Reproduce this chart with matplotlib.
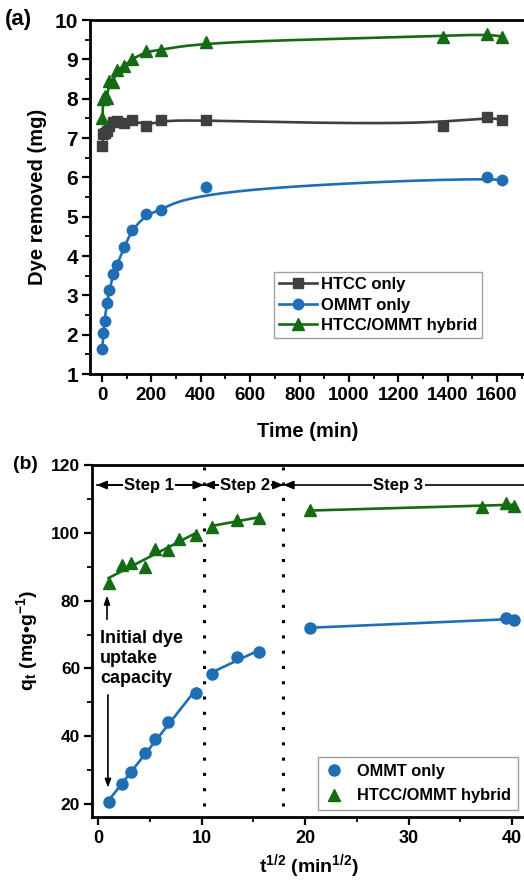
import numpy as np
import matplotlib
matplotlib.use("Agg")
import matplotlib.pyplot as plt
from matplotlib.lines import Line2D
from matplotlib.ticker import MultipleLocator

plt.rcParams["font.family"] = ["Liberation Sans", "DejaVu Sans"]
plt.rcParams["font.weight"] = "bold"
plt.rcParams["axes.labelweight"] = "bold"
plt.rcParams["mathtext.fontset"] = "custom"
plt.rcParams["mathtext.rm"] = "Liberation Sans:bold"
plt.rcParams["mathtext.it"] = "Liberation Sans:bold"
plt.rcParams["mathtext.bf"] = "Liberation Sans:bold"

# ---- panel (a): dye removed vs time ----
time_htcc = [1, 5, 10, 20, 30, 45, 60, 90, 120, 180, 240, 420, 1380, 1560, 1620]
dye_htcc = [6.8, 7.1, 7.12, 7.18, 7.3, 7.4, 7.43, 7.37, 7.46, 7.31, 7.45, 7.45, 7.31, 7.54, 7.47]

time_ommt = [1, 5, 10, 20, 30, 45, 60, 90, 120, 180, 240, 420, 1560, 1620]
dye_ommt = [1.63, 2.03, 2.36, 2.81, 3.13, 3.53, 3.77, 4.22, 4.66, 5.06, 5.17, 5.75, 6.0, 5.93]

time_hyb = [1, 5, 10, 20, 30, 45, 60, 90, 120, 180, 240, 420, 1380, 1560, 1620]
dye_hyb = [7.5, 8.0, 8.08, 8.02, 8.45, 8.42, 8.73, 8.83, 9.0, 9.2, 9.24, 9.45, 9.58, 9.65, 9.58]

# ---- panel (b): qt vs t^1/2 ----
sqrt_ommt = [1.0, 2.3, 3.2, 4.5, 5.5, 6.7, 9.5, 11.0, 13.4, 15.5, 20.5, 39.4, 40.2]
qt_ommt = [20.5, 25.8, 29.4, 35.0, 39.2, 44.3, 52.8, 58.4, 63.3, 64.8, 72.0, 74.8, 74.3]

sqrt_hyb = [1.0, 2.3, 3.2, 4.5, 5.5, 6.7, 7.8, 9.5, 11.0, 13.4, 15.5, 20.5, 37.1, 39.4, 40.2]
qt_hyb = [85.1, 90.5, 91.2, 89.8, 95.2, 94.9, 98.3, 99.4, 101.8, 103.9, 104.3, 106.6, 107.7, 108.8, 108.0]

step_bounds = [10.2, 17.9]
step_names = ["Step 1", "Step 2", "Step 3"]

grey = "#3f3f3f"
blue = "#1f6db5"
green = "#146b14"


def bspline(x, y, num=400, k=3):
    # clamped cubic B-spline with the data points as control points
    n = len(x)
    knots = np.concatenate([np.zeros(k), np.linspace(0, 1, n - k + 1), np.ones(k)])
    u = np.linspace(0, 1, num)
    N = np.zeros((len(knots) - 1, num))
    for i in range(len(knots) - 1):
        N[i] = (knots[i] <= u) & (u < knots[i + 1])
    last = np.where(knots[:-1] < knots[1:])[0][-1]
    N[last, -1] = 1.0
    for p in range(1, k + 1):
        Nn = np.zeros((len(knots) - p - 1, num))
        for i in range(len(knots) - p - 1):
            d1 = knots[i + p] - knots[i]
            d2 = knots[i + p + 1] - knots[i + 1]
            a = (u - knots[i]) / d1 * N[i] if d1 > 0 else 0
            b = (knots[i + p + 1] - u) / d2 * N[i + 1] if d2 > 0 else 0
            Nn[i] = a + b
        N = Nn
    return N.T @ np.asarray(x, float), N.T @ np.asarray(y, float)


fig = plt.figure(figsize=(5.24, 8.86), dpi=100)
W, H = 524.0, 886.0
axa = fig.add_axes([89.7 / W, 1 - 374 / H, (526.6 - 89.7) / W, 354 / H])
axb = fig.add_axes([92 / W, 1 - 817 / H, (526.5 - 92) / W, 352 / H])

for ax in (axa, axb):
    for s in ax.spines.values():
        s.set_linewidth(2.0)
    ax.tick_params(which="both", direction="out", top=False, right=False)
    ax.tick_params(which="major", length=6, width=1.6)
    ax.tick_params(which="minor", length=3.5, width=1.3)
    ax.tick_params(axis="x", pad=3.5)
    ax.tick_params(axis="y", pad=2.5)
axa.tick_params(axis="x", labelsize=13.5)
axa.tick_params(axis="y", labelsize=15)
axb.tick_params(axis="x", labelsize=13)
axb.tick_params(axis="y", labelsize=12.5)

# panel (a)
series_a = [
    (time_htcc, dye_htcc, grey, "s", 6.5, "HTCC only"),
    (time_ommt, dye_ommt, blue, "o", 7.5, "OMMT only"),
    (time_hyb, dye_hyb, green, "^", 8, "HTCC/OMMT hybrid"),
]
handles = []
for x, y, c, m, ms, lab in series_a:
    xs, ys = bspline(x, y)
    axa.plot(xs, ys, color=c, lw=1.9, zorder=2)
    axa.plot(x, y, ls="none", marker=m, ms=ms, color=c, zorder=3)
    handles.append(Line2D([], [], color=c, lw=1.9, marker=m, ms=ms, label=lab))

axa.set_xlim(-50, 1720)
axa.set_ylim(1, 10)
axa.xaxis.set_major_locator(MultipleLocator(200))
axa.xaxis.set_minor_locator(MultipleLocator(100))
axa.yaxis.set_major_locator(MultipleLocator(1))
axa.yaxis.set_minor_locator(MultipleLocator(0.5))
axa.set_xlabel("Time (min)", fontsize=14.5)
axa.set_ylabel("Dye removed (mg)", fontsize=14.5)
axa.xaxis.set_label_coords(0.5, -0.135)
axa.yaxis.set_label_coords(-0.097, 0.5)
leg = axa.legend(handles=handles, loc="lower right", bbox_to_anchor=(0.898, 0.102),
                 borderaxespad=0, fontsize=12, fancybox=False, handlelength=2.25,
                 handletextpad=0.25, borderpad=0.3, labelspacing=0.32)
leg.get_frame().set_edgecolor("#888888")
leg.get_frame().set_linewidth(1.0)

# panel (b)
series_b = [
    (sqrt_ommt, qt_ommt, blue, "o", 8, "OMMT only"),
    (sqrt_hyb, qt_hyb, green, "^", 8.5, "HTCC/OMMT hybrid"),
]
for x, y, c, m, ms, lab in series_b:
    x = np.asarray(x)
    y = np.asarray(y)
    seg = np.digitize(x, step_bounds)
    for s in np.unique(seg):
        xs, ys = x[seg == s], y[seg == s]
        k, b = np.polyfit(xs, ys, 1)
        axb.plot([xs[0], xs[-1]], [k * xs[0] + b, k * xs[-1] + b], color=c, lw=1.9, zorder=2)
    axb.plot(x, y, ls="none", marker=m, ms=ms, color=c, zorder=3, label=lab)

axb.set_xlim(-0.6, 41.4)
axb.set_ylim(16.2, 120)
axb.xaxis.set_major_locator(MultipleLocator(10))
axb.xaxis.set_minor_locator(MultipleLocator(5))
axb.yaxis.set_major_locator(MultipleLocator(20))
axb.yaxis.set_minor_locator(MultipleLocator(10))
axb.set_xlabel(r"t$^\mathregular{1/2}$ (min$^\mathregular{1/2}$)", fontsize=14)
axb.set_ylabel(r"q$_\mathregular{t}$ (mg•g$^\mathregular{-1}$)", fontsize=14)
axb.xaxis.set_label_coords(0.5, -0.1)
axb.yaxis.set_label_coords(-0.12, 0.5)

for xb in step_bounds:
    axb.plot([xb, xb], [19.5, 119.5], color="black", lw=2.2, ls=(0, (1, 4)), zorder=1)

edges = [-0.15] + step_bounds + [41.6]
centers = [4.9, 14.2, 29.0]
for i, name in enumerate(step_names):
    axb.annotate("", xy=(edges[i + 1], 114.1), xytext=(edges[i], 114.1),
                 arrowprops=dict(arrowstyle="-|>,head_length=0.6,head_width=0.25",
                                 color="black", lw=1.2, shrinkA=0, shrinkB=0))
    axb.annotate("", xy=(edges[i], 114.1), xytext=(edges[i + 1], 114.1),
                 arrowprops=dict(arrowstyle="-|>,head_length=0.6,head_width=0.25",
                                 color="black", lw=1.2, shrinkA=0, shrinkB=0))
    axb.text(centers[i], 114.1, name, ha="center", va="center", fontsize=12,
             bbox=dict(facecolor="white", edgecolor="none", pad=1.0), zorder=4)

axb.text(0.2, 63.0, "Initial dye\nuptake\ncapacity", ha="left", va="center",
         fontsize=13, linespacing=1.22)
axb.annotate("", xy=(0.85, 81.5), xytext=(0.85, 74.5),
             arrowprops=dict(arrowstyle="-|>,head_length=0.5,head_width=0.18",
                             color="black", lw=1.2, shrinkA=0, shrinkB=0))
axb.annotate("", xy=(0.94, 24.8), xytext=(0.94, 52.2),
             arrowprops=dict(arrowstyle="-|>,head_length=0.5,head_width=0.18",
                             color="black", lw=1.2, shrinkA=0, shrinkB=0))

legb = axb.legend(loc="lower right", bbox_to_anchor=(0.98, 0.02), borderaxespad=0,
                  fontsize=11.8, fancybox=False, handlelength=1.2, handletextpad=0.8,
                  borderpad=0.4, labelspacing=0.6)
legb.get_frame().set_edgecolor("#888888")
legb.get_frame().set_linewidth(1.0)

fig.text(5 / W, 1 - 20 / H, "(a)", fontsize=16, va="center", ha="left")
fig.text(13 / W, 1 - 465 / H, "(b)", fontsize=14, va="center", ha="left")

fig.savefig("out.png", dpi=100)
